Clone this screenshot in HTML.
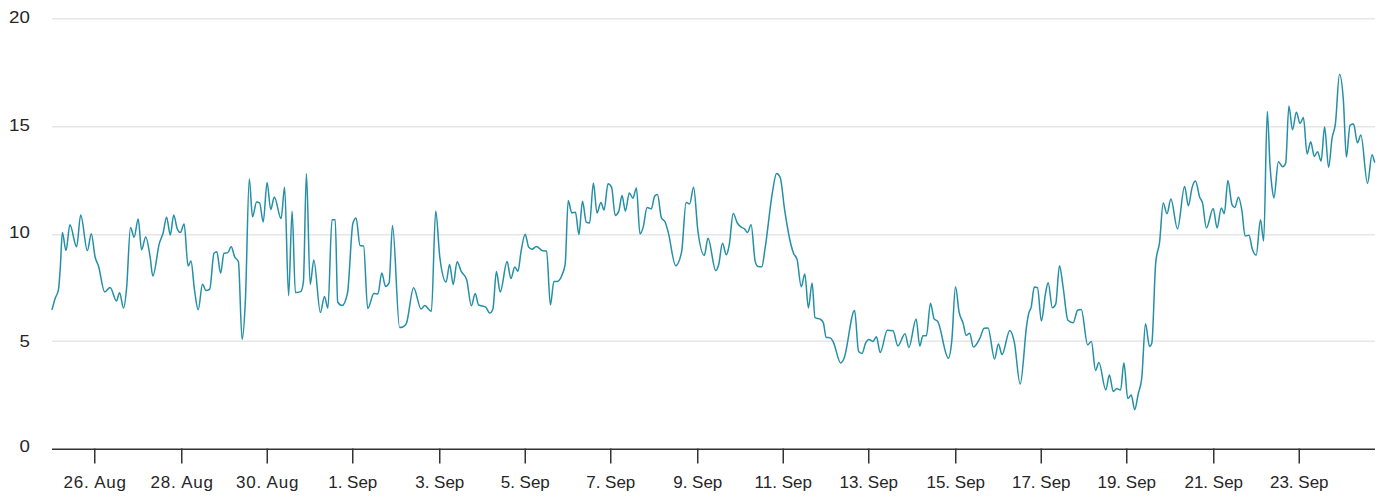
<!DOCTYPE html>
<html><head><meta charset="utf-8"><style>
html,body{margin:0;padding:0;background:#fff;width:1383px;height:504px;overflow:hidden}
svg{display:block}
.l{font-family:"Liberation Sans",sans-serif;font-size:17px;fill:#262626}
</style></head><body>
<svg width="1383" height="504" viewBox="0 0 1383 504">
<rect x="52" y="18" width="1323" height="1.5" fill="#e6e6e6"/>
<rect x="52" y="126" width="1323" height="1.5" fill="#e6e6e6"/>
<rect x="52" y="234" width="1323" height="1.5" fill="#e6e6e6"/>
<rect x="52" y="340.5" width="1323" height="1.5" fill="#e6e6e6"/>
<text transform="translate(29.8 0) scale(1.1 1)" x="0" y="22.8" text-anchor="end" class="l">20</text>
<text transform="translate(29.8 0) scale(1.1 1)" x="0" y="130.8" text-anchor="end" class="l">15</text>
<text transform="translate(29.8 0) scale(1.1 1)" x="0" y="238.5" text-anchor="end" class="l">10</text>
<text transform="translate(29.8 0) scale(1.1 1)" x="0" y="346.8" text-anchor="end" class="l">5</text>
<text transform="translate(29.8 0) scale(1.1 1)" x="0" y="452.3" text-anchor="end" class="l">0</text>
<path d="M 52.10 309.20 C 53.13 305.57 54.17 301.54 55.20 298.30 C 56.30 294.85 57.40 295.30 58.50 289.30 C 59.10 286.03 59.70 275.92 60.30 267.40 C 61.00 257.46 61.70 232.60 62.40 232.60 C 63.60 232.60 64.80 250.60 66.00 250.60 C 67.30 250.60 68.60 224.80 69.90 224.80 C 72.13 224.80 74.37 246.70 76.60 246.70 C 77.97 246.70 79.33 215.00 80.70 215.00 C 82.93 215.00 85.17 250.60 87.40 250.60 C 88.70 250.60 90.00 233.80 91.30 233.80 C 92.57 233.80 93.83 251.58 95.10 257.00 C 96.23 261.85 97.37 262.39 98.50 266.00 C 100.57 272.59 102.63 291.90 104.70 291.90 C 106.50 291.90 108.30 287.50 110.10 287.50 C 112.23 287.50 114.37 300.90 116.50 300.90 C 117.53 300.90 118.57 292.70 119.60 292.70 C 120.90 292.70 122.20 308.10 123.50 308.10 C 124.53 308.10 125.57 298.84 126.60 288.00 C 127.90 274.36 129.20 227.40 130.50 227.40 C 131.70 227.40 132.90 237.20 134.10 237.20 C 135.47 237.20 136.83 219.10 138.20 219.10 C 139.33 219.10 140.47 249.80 141.60 249.80 C 142.97 249.80 144.33 237.00 145.70 237.00 C 147.20 237.00 148.70 248.20 150.20 257.50 C 151.07 262.88 151.93 276.10 152.80 276.10 C 155.00 276.10 157.20 250.90 159.40 243.10 C 160.63 238.73 161.87 237.50 163.10 233.00 C 164.27 228.75 165.43 217.20 166.60 217.20 C 167.83 217.20 169.07 235.00 170.30 235.00 C 171.43 235.00 172.57 214.90 173.70 214.90 C 174.87 214.90 176.03 225.84 177.20 228.70 C 178.23 231.23 179.27 232.50 180.30 232.50 C 181.57 232.50 182.83 223.90 184.10 223.90 C 185.43 223.90 186.77 266.10 188.10 266.10 C 189.07 266.10 190.03 260.90 191.00 260.90 C 192.13 260.90 193.27 281.22 194.40 289.10 C 195.67 297.90 196.93 309.80 198.20 309.80 C 199.63 309.80 201.07 284.20 202.50 284.20 C 203.63 284.20 204.77 290.50 205.90 290.50 C 207.17 290.50 208.43 290.03 209.70 289.10 C 211.13 288.04 212.57 254.74 214.00 253.20 C 214.93 252.20 215.87 251.70 216.80 251.70 C 218.07 251.70 219.33 273.30 220.60 273.30 C 221.73 273.30 222.87 253.56 224.00 253.20 C 225.27 252.80 226.53 253.00 227.80 252.60 C 228.93 252.24 230.07 246.80 231.20 246.80 C 232.37 246.80 233.53 254.42 234.70 256.90 C 235.93 259.52 237.17 258.53 238.40 261.80 C 239.63 265.07 240.87 339.50 242.10 339.50 C 243.20 339.50 244.30 322.77 245.40 300.00 C 246.70 273.09 248.00 179.00 249.30 179.00 C 250.37 179.00 251.43 216.80 252.50 216.80 C 253.87 216.80 255.23 202.00 256.60 202.00 C 257.60 202.00 258.60 202.30 259.60 202.90 C 260.80 203.62 262.00 222.10 263.20 222.10 C 264.50 222.10 265.80 182.50 267.10 182.50 C 268.30 182.50 269.50 209.60 270.70 209.60 C 271.90 209.60 273.10 197.10 274.30 197.10 C 276.57 197.10 278.83 218.60 281.10 218.60 C 282.27 218.60 283.43 187.30 284.60 187.30 C 285.93 187.30 287.27 295.70 288.60 295.70 C 289.77 295.70 290.93 211.10 292.10 211.10 C 293.20 211.10 294.30 292.50 295.40 292.50 C 297.17 292.50 298.93 292.20 300.70 291.60 C 301.60 291.29 302.50 288.33 303.40 281.80 C 304.40 274.54 305.40 173.60 306.40 173.60 C 307.67 173.60 308.93 284.50 310.20 284.50 C 311.40 284.50 312.60 260.00 313.80 260.00 C 316.00 260.00 318.20 312.50 320.40 312.50 C 321.77 312.50 323.13 296.40 324.50 296.40 C 325.63 296.40 326.77 308.20 327.90 308.20 C 329.27 308.20 330.63 219.80 332.00 219.80 C 333.07 219.80 334.13 219.80 335.20 219.80 C 336.03 219.80 336.87 300.67 337.70 302.00 C 339.17 304.33 340.63 305.50 342.10 305.50 C 343.90 305.50 345.70 301.33 347.50 293.00 C 349.30 284.67 351.10 229.16 352.90 223.20 C 353.97 219.67 355.03 217.90 356.10 217.90 C 357.40 217.90 358.70 245.14 360.00 245.50 C 361.20 245.83 362.40 245.67 363.60 246.00 C 364.97 246.38 366.33 308.60 367.70 308.60 C 369.77 308.60 371.83 293.60 373.90 293.60 C 375.23 293.60 376.57 294.00 377.90 294.00 C 379.20 294.00 380.50 272.90 381.80 272.90 C 383.03 272.90 384.27 286.40 385.50 286.40 C 386.70 286.40 387.90 285.23 389.10 282.90 C 390.23 280.70 391.37 225.40 392.50 225.40 C 394.87 225.40 397.23 327.50 399.60 327.50 C 400.70 327.50 401.80 327.33 402.90 327.00 C 404.07 326.65 405.23 325.80 406.40 323.40 C 408.80 318.46 411.20 287.70 413.60 287.70 C 416.10 287.70 418.60 309.10 421.10 309.10 C 422.33 309.10 423.57 305.50 424.80 305.50 C 427.00 305.50 429.20 311.40 431.40 311.40 C 432.83 311.40 434.27 211.10 435.70 211.10 C 437.07 211.10 438.43 246.30 439.80 257.10 C 441.90 273.70 444.00 282.00 446.10 282.00 C 447.27 282.00 448.43 264.50 449.60 264.50 C 450.80 264.50 452.00 284.50 453.20 284.50 C 454.50 284.50 455.80 261.80 457.10 261.80 C 458.48 261.80 459.87 268.68 461.25 271.40 C 463.03 274.90 464.82 274.10 466.60 279.50 C 468.20 284.34 469.80 305.70 471.40 305.70 C 472.67 305.70 473.93 293.40 475.20 293.40 C 476.33 293.40 477.47 304.40 478.60 305.00 C 480.87 306.20 483.13 305.60 485.40 306.80 C 486.87 307.58 488.33 313.00 489.80 313.00 C 490.83 313.00 491.87 311.63 492.90 308.90 C 494.07 305.81 495.23 271.60 496.40 271.60 C 497.67 271.60 498.93 292.00 500.20 292.00 C 502.50 292.00 504.80 261.60 507.10 261.60 C 508.37 261.60 509.63 278.60 510.90 278.60 C 512.20 278.60 513.50 267.00 514.80 267.00 C 515.87 267.00 516.93 271.20 518.00 271.20 C 519.00 271.20 520.00 257.31 521.00 251.80 C 522.40 244.09 523.80 234.30 525.20 234.30 C 526.33 234.30 527.47 245.58 528.60 247.00 C 529.77 248.47 530.93 249.20 532.10 249.20 C 533.48 249.20 534.87 246.50 536.25 246.50 C 538.47 246.50 540.68 250.56 542.90 250.80 C 544.13 250.93 545.37 250.87 546.60 251.00 C 547.87 251.14 549.13 305.00 550.40 305.00 C 551.57 305.00 552.73 281.40 553.90 281.40 C 554.97 281.40 556.03 281.40 557.10 281.40 C 558.90 281.40 560.70 278.85 562.50 273.75 C 563.40 271.20 564.30 270.47 565.20 263.90 C 566.20 256.60 567.20 200.40 568.20 200.40 C 569.40 200.40 570.60 212.90 571.80 212.90 C 573.03 212.90 574.27 212.30 575.50 212.30 C 576.63 212.30 577.77 234.60 578.90 234.60 C 580.10 234.60 581.30 201.25 582.50 201.25 C 583.75 201.25 585.00 221.43 586.25 222.10 C 587.37 222.70 588.48 223.00 589.60 223.00 C 590.87 223.00 592.13 182.90 593.40 182.90 C 594.60 182.90 595.80 212.90 597.00 212.90 C 598.30 212.90 599.60 202.50 600.90 202.50 C 601.97 202.50 603.03 210.00 604.10 210.00 C 605.40 210.00 606.70 183.75 608.00 183.75 C 609.20 183.75 610.40 184.93 611.60 187.30 C 612.80 189.67 614.00 215.40 615.20 215.40 C 616.38 215.40 617.57 214.07 618.75 211.40 C 619.83 208.96 620.92 195.60 622.00 195.60 C 623.13 195.60 624.27 211.10 625.40 211.10 C 626.70 211.10 628.00 192.90 629.30 192.90 C 630.50 192.90 631.70 198.20 632.90 198.20 C 634.07 198.20 635.23 187.90 636.40 187.90 C 637.60 187.90 638.80 233.90 640.00 233.90 C 641.07 233.90 642.13 230.76 643.20 227.10 C 644.50 222.64 645.80 207.50 647.10 207.50 C 648.48 207.50 649.87 208.90 651.25 208.90 C 652.43 208.90 653.62 197.04 654.80 195.90 C 655.70 195.03 656.60 194.60 657.50 194.60 C 658.80 194.60 660.10 215.08 661.40 217.90 C 662.60 220.50 663.80 219.20 665.00 221.80 C 666.07 224.11 667.13 228.26 668.20 232.10 C 670.70 241.09 673.20 265.70 675.70 265.70 C 677.67 265.70 679.63 261.07 681.60 251.80 C 683.10 244.73 684.60 202.40 686.10 202.40 C 687.27 202.40 688.43 203.90 689.60 203.90 C 690.93 203.90 692.27 187.30 693.60 187.30 C 695.00 187.30 696.40 219.21 697.80 230.00 C 699.97 246.70 702.13 255.40 704.30 255.40 C 705.53 255.40 706.77 238.20 708.00 238.20 C 710.57 238.20 713.13 270.50 715.70 270.50 C 716.67 270.50 717.63 268.36 718.60 265.00 C 719.90 260.49 721.20 243.20 722.50 243.20 C 723.77 243.20 725.03 254.80 726.30 254.80 C 727.30 254.80 728.30 249.89 729.30 244.50 C 730.60 237.50 731.90 213.60 733.20 213.60 C 734.57 213.60 735.93 220.71 737.30 223.00 C 738.80 225.51 740.30 226.45 741.80 227.50 C 742.70 228.13 743.60 228.14 744.50 228.90 C 745.50 229.74 746.50 232.50 747.50 232.50 C 748.70 232.50 749.90 224.80 751.10 224.80 C 752.47 224.80 753.83 256.34 755.20 261.40 C 756.10 264.73 757.00 266.22 757.90 266.40 C 759.20 266.67 760.50 266.80 761.80 266.80 C 762.87 266.80 763.93 255.51 765.00 248.90 C 767.50 233.41 770.00 205.88 772.50 191.80 C 773.83 184.29 775.17 173.50 776.50 173.50 C 777.73 173.50 778.97 174.83 780.20 177.50 C 781.67 180.67 783.13 199.96 784.60 209.60 C 786.70 223.40 788.80 236.16 790.90 244.50 C 791.80 248.07 792.70 251.03 793.60 253.40 C 794.77 256.47 795.93 255.47 797.10 259.60 C 798.48 264.50 799.87 286.80 801.25 286.80 C 802.43 286.80 803.62 273.90 804.80 273.90 C 806.00 273.90 807.20 307.90 808.40 307.90 C 809.63 307.90 810.87 283.00 812.10 283.00 C 813.07 283.00 814.03 317.09 815.00 317.70 C 816.90 318.90 818.80 318.30 820.70 319.50 C 821.60 320.07 822.50 320.67 823.40 323.00 C 824.30 325.33 825.20 337.04 826.10 337.30 C 827.47 337.70 828.83 337.50 830.20 337.90 C 831.20 338.19 832.20 340.07 833.20 341.80 C 835.70 346.13 838.20 362.90 840.70 362.90 C 841.77 362.90 842.83 360.92 843.90 358.75 C 847.47 351.49 851.03 310.50 854.60 310.50 C 855.93 310.50 857.27 350.23 858.60 351.60 C 859.77 352.80 860.93 353.40 862.10 353.40 C 863.20 353.40 864.30 345.91 865.40 343.60 C 866.57 341.15 867.73 339.50 868.90 339.50 C 870.23 339.50 871.57 341.40 872.90 341.40 C 874.07 341.40 875.23 336.80 876.40 336.80 C 877.67 336.80 878.93 352.50 880.20 352.50 C 882.57 352.50 884.93 330.20 887.30 330.20 C 889.20 330.20 891.10 330.37 893.00 330.70 C 894.63 330.99 896.27 345.90 897.90 345.90 C 900.27 345.90 902.63 333.70 905.00 333.70 C 906.30 333.70 907.60 347.50 908.90 347.50 C 911.30 347.50 913.70 318.90 916.10 318.90 C 917.33 318.90 918.57 346.10 919.80 346.10 C 920.83 346.10 921.87 335.70 922.90 335.70 C 924.07 335.70 925.23 335.70 926.40 335.70 C 927.77 335.70 929.13 303.20 930.50 303.20 C 931.70 303.20 932.90 317.23 934.10 318.90 C 935.30 320.57 936.50 319.74 937.70 321.40 C 941.27 326.34 944.83 358.20 948.40 358.20 C 949.53 358.20 950.67 351.65 951.80 340.70 C 953.03 328.79 954.27 286.80 955.50 286.80 C 956.70 286.80 957.90 306.12 959.10 312.10 C 960.40 318.58 961.70 318.54 963.00 322.90 C 964.08 326.54 965.17 335.40 966.25 335.40 C 967.37 335.40 968.48 333.20 969.60 333.20 C 970.87 333.20 972.13 347.00 973.40 347.00 C 975.60 347.00 977.80 342.39 980.00 338.00 C 981.37 335.27 982.73 328.41 984.10 328.20 C 985.40 328.00 986.70 327.90 988.00 327.90 C 990.20 327.90 992.40 358.90 994.60 358.90 C 995.87 358.90 997.13 343.90 998.40 343.90 C 999.60 343.90 1000.80 354.60 1002.00 354.60 C 1004.60 354.60 1007.20 330.40 1009.80 330.40 C 1011.30 330.40 1012.80 335.27 1014.30 342.10 C 1016.27 351.06 1018.23 384.10 1020.20 384.10 C 1022.40 384.10 1024.60 338.56 1026.80 324.30 C 1027.40 320.41 1028.00 316.61 1028.60 313.90 C 1029.48 309.90 1030.37 310.72 1031.25 306.80 C 1032.27 302.29 1033.28 287.10 1034.30 287.10 C 1035.37 287.10 1036.43 287.30 1037.50 287.70 C 1038.80 288.19 1040.10 321.10 1041.40 321.10 C 1042.77 321.10 1044.13 300.33 1045.50 293.40 C 1046.40 288.84 1047.30 282.70 1048.20 282.70 C 1049.57 282.70 1050.93 307.70 1052.30 307.70 C 1053.43 307.70 1054.57 306.50 1055.70 304.10 C 1056.97 301.42 1058.23 265.70 1059.50 265.70 C 1060.67 265.70 1061.83 278.89 1063.00 286.25 C 1064.63 296.56 1066.27 318.66 1067.90 320.20 C 1069.67 321.87 1071.43 322.70 1073.20 322.70 C 1074.67 322.70 1076.13 310.76 1077.60 310.20 C 1078.82 309.73 1080.03 309.50 1081.25 309.50 C 1083.40 309.50 1085.55 345.00 1087.70 345.00 C 1088.93 345.00 1090.17 341.40 1091.40 341.40 C 1092.77 341.40 1094.13 370.40 1095.50 370.40 C 1096.63 370.40 1097.77 362.50 1098.90 362.50 C 1101.20 362.50 1103.50 390.00 1105.80 390.00 C 1107.00 390.00 1108.20 375.00 1109.40 375.00 C 1110.67 375.00 1111.93 391.40 1113.20 391.40 C 1114.43 391.40 1115.67 388.60 1116.90 388.60 C 1118.13 388.60 1119.37 390.00 1120.60 390.00 C 1121.70 390.00 1122.80 362.80 1123.90 362.80 C 1125.20 362.80 1126.50 398.60 1127.80 398.60 C 1128.95 398.60 1130.10 395.10 1131.25 395.10 C 1132.40 395.10 1133.55 409.70 1134.70 409.70 C 1135.87 409.70 1137.03 399.25 1138.20 394.00 C 1139.38 388.68 1140.57 388.67 1141.75 378.00 C 1143.00 366.73 1144.25 323.80 1145.50 323.80 C 1146.83 323.80 1148.17 346.40 1149.50 346.40 C 1150.27 346.40 1151.03 345.33 1151.80 343.20 C 1153.10 339.58 1154.40 276.83 1155.70 262.90 C 1157.00 248.97 1158.30 252.67 1159.60 242.00 C 1160.80 232.15 1162.00 203.00 1163.20 203.00 C 1164.47 203.00 1165.73 213.75 1167.00 213.75 C 1168.30 213.75 1169.60 199.10 1170.90 199.10 C 1173.10 199.10 1175.30 228.90 1177.50 228.90 C 1179.87 228.90 1182.23 186.40 1184.60 186.40 C 1185.87 186.40 1187.13 205.70 1188.40 205.70 C 1189.60 205.70 1190.80 192.02 1192.00 187.90 C 1193.13 184.01 1194.27 181.10 1195.40 181.10 C 1196.87 181.10 1198.33 193.60 1199.80 197.50 C 1200.70 199.89 1201.60 199.48 1202.50 202.90 C 1203.80 207.85 1205.10 227.90 1206.40 227.90 C 1208.67 227.90 1210.93 208.60 1213.20 208.60 C 1214.50 208.60 1215.80 227.90 1217.10 227.90 C 1218.48 227.90 1219.87 207.90 1221.25 207.90 C 1222.27 207.90 1223.28 213.60 1224.30 213.60 C 1225.50 213.60 1226.70 180.50 1227.90 180.50 C 1229.27 180.50 1230.63 201.77 1232.00 204.60 C 1232.93 206.53 1233.87 207.50 1234.80 207.50 C 1236.00 207.50 1237.20 197.30 1238.40 197.30 C 1239.57 197.30 1240.73 203.65 1241.90 210.60 C 1242.97 216.96 1244.03 236.00 1245.10 236.00 C 1246.40 236.00 1247.70 235.20 1249.00 235.20 C 1250.07 235.20 1251.13 245.44 1252.20 248.70 C 1253.53 252.77 1254.87 255.10 1256.20 255.10 C 1257.63 255.10 1259.07 219.80 1260.50 219.80 C 1261.55 219.80 1262.60 241.10 1263.65 241.10 C 1264.87 241.10 1266.08 111.40 1267.30 111.40 C 1268.20 111.40 1269.10 152.14 1270.00 165.50 C 1270.67 175.40 1271.33 182.06 1272.00 187.50 C 1272.63 192.67 1273.27 197.90 1273.90 197.90 C 1275.40 197.90 1276.90 161.80 1278.40 161.80 C 1279.83 161.80 1281.27 166.80 1282.70 166.80 C 1283.70 166.80 1284.70 165.50 1285.70 162.90 C 1286.77 160.13 1287.83 105.90 1288.90 105.90 C 1290.10 105.90 1291.30 129.70 1292.50 129.70 C 1293.80 129.70 1295.10 112.30 1296.40 112.30 C 1297.60 112.30 1298.80 123.60 1300.00 123.60 C 1301.13 123.60 1302.27 117.50 1303.40 117.50 C 1304.63 117.50 1305.87 154.00 1307.10 154.00 C 1308.30 154.00 1309.50 141.80 1310.70 141.80 C 1311.90 141.80 1313.10 156.40 1314.30 156.40 C 1315.37 156.40 1316.43 151.70 1317.50 151.70 C 1318.70 151.70 1319.90 161.10 1321.10 161.10 C 1322.27 161.10 1323.43 127.10 1324.60 127.10 C 1325.93 127.10 1327.27 167.30 1328.60 167.30 C 1329.77 167.30 1330.93 145.31 1332.10 138.00 C 1333.20 131.11 1334.30 132.44 1335.40 123.90 C 1336.77 113.29 1338.13 74.30 1339.50 74.30 C 1340.80 74.30 1342.10 83.10 1343.40 100.70 C 1344.40 114.24 1345.40 157.10 1346.40 157.10 C 1347.60 157.10 1348.80 126.27 1350.00 125.40 C 1351.20 124.53 1352.40 124.10 1353.60 124.10 C 1354.87 124.10 1356.13 142.80 1357.40 142.80 C 1358.57 142.80 1359.73 135.10 1360.90 135.10 C 1363.10 135.10 1365.30 183.40 1367.50 183.40 C 1369.00 183.40 1370.50 154.80 1372.00 154.80 C 1372.87 154.80 1373.73 159.60 1374.60 162.00" fill="none" stroke="#248fa6" stroke-width="1.5" stroke-linejoin="round" stroke-linecap="round"/>
<rect x="52" y="448.5" width="1323" height="1.5" fill="#333333"/>
<rect x="94" y="448.5" width="1.5" height="15" fill="#333333"/>
<text x="95.2" y="488" text-anchor="middle" class="l" letter-spacing="0.8">26. Aug</text>
<rect x="181" y="448.5" width="1.5" height="15" fill="#333333"/>
<text x="182.2" y="488" text-anchor="middle" class="l" letter-spacing="0.8">28. Aug</text>
<rect x="266.5" y="448.5" width="1.5" height="15" fill="#333333"/>
<text x="267.6" y="488" text-anchor="middle" class="l" letter-spacing="0.8">30. Aug</text>
<rect x="352" y="448.5" width="1.5" height="15" fill="#333333"/>
<text x="352.75" y="488" text-anchor="middle" class="l">1. Sep</text>
<rect x="439" y="448.5" width="1.5" height="15" fill="#333333"/>
<text x="439.75" y="488" text-anchor="middle" class="l">3. Sep</text>
<rect x="524.5" y="448.5" width="1.5" height="15" fill="#333333"/>
<text x="525.25" y="488" text-anchor="middle" class="l">5. Sep</text>
<rect x="610" y="448.5" width="1.5" height="15" fill="#333333"/>
<text x="610.75" y="488" text-anchor="middle" class="l">7. Sep</text>
<rect x="697" y="448.5" width="1.5" height="15" fill="#333333"/>
<text x="697.75" y="488" text-anchor="middle" class="l">9. Sep</text>
<rect x="782.5" y="448.5" width="1.5" height="15" fill="#333333"/>
<text x="783.25" y="488" text-anchor="middle" class="l">11. Sep</text>
<rect x="868" y="448.5" width="1.5" height="15" fill="#333333"/>
<text x="868.75" y="488" text-anchor="middle" class="l">13. Sep</text>
<rect x="955" y="448.5" width="1.5" height="15" fill="#333333"/>
<text x="955.75" y="488" text-anchor="middle" class="l">15. Sep</text>
<rect x="1040.5" y="448.5" width="1.5" height="15" fill="#333333"/>
<text x="1041.25" y="488" text-anchor="middle" class="l">17. Sep</text>
<rect x="1126" y="448.5" width="1.5" height="15" fill="#333333"/>
<text x="1126.75" y="488" text-anchor="middle" class="l">19. Sep</text>
<rect x="1213" y="448.5" width="1.5" height="15" fill="#333333"/>
<text x="1213.75" y="488" text-anchor="middle" class="l">21. Sep</text>
<rect x="1298.5" y="448.5" width="1.5" height="15" fill="#333333"/>
<text x="1299.25" y="488" text-anchor="middle" class="l">23. Sep</text>
</svg></body></html>
